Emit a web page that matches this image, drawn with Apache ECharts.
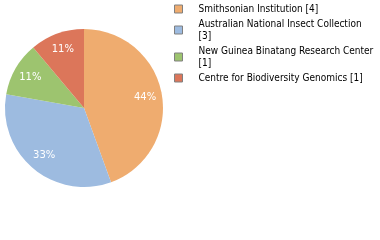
<!DOCTYPE html>
<html><head><meta charset="utf-8">
<script src="https://cdn.jsdelivr.net/npm/echarts@6/dist/echarts.min.js"></script>
<style>html,body{margin:0;padding:0;background:#fff}#c{width:380px;height:240px}</style>
</head><body><div id="c"></div>
<script>
const categories = ["Smithsonian Institution [4]", "Australian National Insect Collection\n[3]", "New Guinea Binatang Research Center\n[1]", "Centre for Biodiversity Genomics [1]"];
const values = [4, 3, 1, 1];
const colors = ["#efac6f", "#9dbbe0", "#9dc46f", "#dc765a"];

const total = values.reduce((a, b) => a + b, 0);
const data = categories.map((n, i) => ({ name: n, value: values[i], itemStyle: { color: colors[i] } }));
const chart = echarts.init(document.getElementById('c'), null, { renderer: 'canvas' });
chart.setOption({
  animation: false,
  legend: {
    orient: 'vertical', left: 174, top: 3, padding: 0,
    itemWidth: 8, itemHeight: 8, itemGap: 3,
    icon: 'rect',
    itemStyle: { borderColor: '#808080', borderWidth: 1 },
    textStyle: { fontFamily: 'DejaVu Sans Condensed', fontSize: 10, color: '#000', lineHeight: 12, padding: [0, 0, 0, 11] },
    selectedMode: false,
    data: categories
  },
  series: [{
    type: 'pie', center: [84, 108], radius: [0, 79], startAngle: 90, clockwise: true,
    label: { show: false }, labelLine: { show: false }, silent: true,
    data: data
  }, {
    type: 'pie', center: [84, 108], radius: [39, 79], startAngle: 90, clockwise: true,
    silent: true, labelLine: { show: false },
    itemStyle: { color: 'rgba(0,0,0,0)' },
    label: { show: true, position: 'inside', color: '#fff', fontFamily: 'DejaVu Sans', fontSize: 10,
      formatter: p => Math.round(p.value / total * 100) + '%' },
    data: categories.map((n, i) => ({ name: n, value: values[i], itemStyle: { color: 'rgba(0,0,0,0)' } }))
  }]
});
</script></body></html>
